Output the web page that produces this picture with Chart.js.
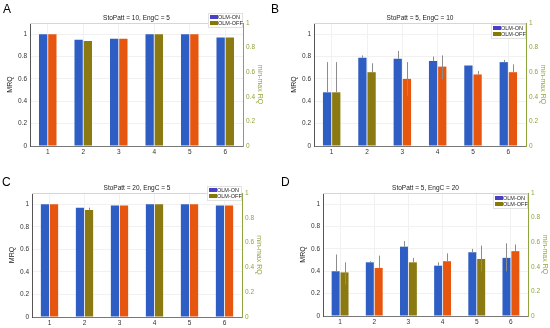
<!DOCTYPE html>
<html>
<head>
<meta charset="utf-8">
<script src="https://cdn.jsdelivr.net/npm/chart.js@4.4.1/dist/chart.umd.min.js"></script>
<style>
    html, body { margin: 0; padding: 0; background: #fff; }
    #wrap { position: relative; width: 550px; height: 328px; overflow: hidden; font-family: 'Liberation Sans', Arial, sans-serif; }
    canvas { position: absolute; }
    .letter { position: absolute; font-size: 12px; color: #000; line-height: 1; }
</style>
</head>
<body>
<div id="wrap">
    <canvas id="chartA" width="275" height="164" style="left:0;top:0;"></canvas>
    <canvas id="chartB" width="275" height="164" style="left:275px;top:0;"></canvas>
    <canvas id="chartC" width="275" height="164" style="left:0;top:164px;"></canvas>
    <canvas id="chartD" width="275" height="164" style="left:275px;top:164px;"></canvas>
    <div class="letter" style="left:3px;top:3px;">A</div>
    <div class="letter" style="left:271px;top:3px;">B</div>
    <div class="letter" style="left:2px;top:176px;">C</div>
    <div class="letter" style="left:281px;top:176px;">D</div>
</div>
<script>
// --- Dados ---
const categories = ['1', '2', '3', '4', '5', '6'];
const seriesNames = ['OLM-ON', 'OLM-OFF'];
const leftTicks = [0, 0.2, 0.4, 0.6, 0.8, 1];
const rightTicks = [0, 0.2, 0.4, 0.6, 0.8, 1];

// Painel A
const titleA = 'StoPatt = 10, EngC = 5';
const onA = [1.00, 0.95, 0.96, 1.00, 1.00, 0.97];
const offA = [1.00, 0.94, 0.96, 1.00, 1.00, 0.97];
const onHiA = [null, null, null, null, null, null];
const onLoA = [null, null, null, null, null, null];
const offHiA = [null, null, null, null, null, null];
const offLoA = [null, null, null, null, null, null];

// Painel B
const titleB = 'StoPatt = 5, EngC = 10';
const onB = [0.48, 0.79, 0.78, 0.76, 0.72, 0.75];
const offB = [0.48, 0.66, 0.60, 0.71, 0.64, 0.66];
const onHiB = [0.75, 0.81, 0.85, 0.80, null, 0.77];
const onLoB = [0.48, 0.79, 0.78, 0.76, null, 0.75];
const offHiB = [0.75, 0.74, 0.75, 0.81, 0.67, 0.73];
const offLoB = [0.48, 0.66, 0.45, 0.60, 0.64, 0.66];

// Painel C
const titleC = 'StoPatt = 20, EngC = 5';
const onC = [1.00, 0.97, 0.99, 1.00, 1.00, 0.99];
const offC = [1.00, 0.95, 0.99, 1.00, 1.00, 0.99];
const onHiC = [null, null, null, null, null, null];
const onLoC = [null, null, null, null, null, null];
const offHiC = [null, 0.97, null, null, null, null];
const offLoC = [null, 0.95, null, null, null, null];

// Painel D
const titleD = 'StoPatt = 5, EngC = 20';
const onD = [0.40, 0.48, 0.62, 0.45, 0.57, 0.52];
const offD = [0.39, 0.43, 0.48, 0.49, 0.51, 0.58];
const onHiD = [0.55, 0.49, 0.67, 0.48, 0.60, 0.65];
const onLoD = [0.40, 0.48, 0.62, 0.45, 0.57, 0.40];
const offHiD = [0.48, 0.54, 0.52, 0.56, 0.63, 0.64];
const offLoD = [0.28, 0.43, 0.48, 0.49, 0.40, 0.58];

// --- Estilos ---
const FONT = "'Liberation Sans', Arial, sans-serif";
const BLUE = '#2e5ec3';
const ORANGE = '#e6560f';
const OLIVE = '#8b7a12';
const GREEN_AXIS = '#8ea43c';
const LEG_ON = '#4a40c6';
const LEG_OFF = '#857a05';

// cores das barras OFF (variam de barra a barra na figura)
const offColorsA = [ORANGE, OLIVE, ORANGE, OLIVE, ORANGE, OLIVE];
const offColorsB = [OLIVE, OLIVE, ORANGE, ORANGE, ORANGE, ORANGE];
const offColorsC = [ORANGE, OLIVE, ORANGE, OLIVE, ORANGE, ORANGE];
const offColorsD = [OLIVE, ORANGE, OLIVE, ORANGE, OLIVE, ORANGE];

const fmt = v => String(+Number(v).toFixed(1));

// plugin: título, caixa, barras de erro e legenda
const panelPlugin = {
    id: 'panel',
    afterDatasetsDraw(chart, args, opts) {
        const ctx = chart.ctx;
        const area = chart.chartArea;
        const y = chart.scales.y;
        ctx.save();

        // barras de erro
        ctx.strokeStyle = '#8c8c8c';
        ctx.lineWidth = 1;
        chart.data.datasets.forEach((ds, di) => {
            const meta = chart.getDatasetMeta(di);
            meta.data.forEach((bar, i) => {
                const hi = ds.errHi[i];
                const lo = ds.errLo[i];
                if (hi == null) return;
                const x = Math.round(bar.x) + 0.5;
                ctx.beginPath();
                ctx.moveTo(x, y.getPixelForValue(lo));
                ctx.lineTo(x, y.getPixelForValue(hi));
                ctx.stroke();
            });
        });

        // linha superior da caixa
        ctx.strokeStyle = '#d6d6d6';
        ctx.beginPath();
        ctx.moveTo(area.left, Math.round(area.top) + 0.5);
        ctx.lineTo(area.right, Math.round(area.top) + 0.5);
        ctx.stroke();

        // título
        ctx.fillStyle = '#222';
        ctx.font = '6.5px ' + FONT;
        ctx.textAlign = 'center';
        ctx.textBaseline = 'middle';
        ctx.fillText(opts.title, (area.left + area.right) / 2, opts.titleY);

        // legenda
        const lx = opts.legendX, ly = opts.legendY;
        ctx.fillStyle = '#fff';
        ctx.fillRect(lx, ly, 34, 14);
        ctx.strokeStyle = '#e2e2e2';
        ctx.strokeRect(lx + 0.5, ly + 0.5, 34, 14);
        ctx.font = '5.5px ' + FONT;
        ctx.textAlign = 'left';
        [LEG_ON, LEG_OFF].forEach((c, k) => {
            ctx.fillStyle = c;
            ctx.fillRect(lx + 2, ly + 2 + k * 6, 8, 4);
            ctx.fillStyle = '#222';
            ctx.fillText(seriesNames[k], lx + 10, ly + 4.5 + k * 6);
        });
        ctx.restore();
    }
};

function makePanel(id, title, on, off, offColors, onHi, onLo, offHi, offLo, g) {
    const ctx = document.getElementById(id).getContext('2d');
    return new Chart(ctx, {
        type: 'bar',
        data: {
            labels: categories,
            datasets: [{
                label: seriesNames[0],
                data: on,
                backgroundColor: BLUE,
                errHi: onHi,
                errLo: onLo,
                yAxisID: 'y',
                categoryPercentage: 0.52,
                barPercentage: 0.9
            }, {
                label: seriesNames[1],
                data: off,
                backgroundColor: offColors,
                errHi: offHi,
                errLo: offLo,
                yAxisID: 'y',
                categoryPercentage: 0.52,
                barPercentage: 0.9
            }]
        },
        options: {
            responsive: false,
            animation: false,
            layout: { padding: { top: g.top, left: g.padL, right: g.padR, bottom: 0 } },
            plugins: {
                legend: { display: false },
                tooltip: { enabled: false },
                panel: { title: title, titleY: g.titleY, legendX: g.legendX, legendY: g.legendY }
            },
            scales: {
                x: {
                    grid: { color: '#f1f1f1', offset: false, drawTicks: false },
                    border: { color: '#777' },
                    ticks: { color: '#333', font: { size: 6.5, family: FONT }, padding: 2 },
                    afterFit: s => { s.height = g.xh; }
                },
                y: {
                    position: 'left',
                    min: 0,
                    max: 1.1,
                    afterBuildTicks: s => { s.ticks = leftTicks.map(v => ({ value: v })); },
                    grid: { color: '#f1f1f1', drawTicks: false },
                    border: { color: '#555' },
                    ticks: { color: '#333', font: { size: 6.5, family: FONT }, padding: 3, callback: fmt },
                    title: { display: true, text: 'MRQ', color: '#222', font: { size: 7, family: FONT }, padding: 0 },
                    afterFit: s => { s.width = 24; }
                },
                y2: {
                    position: 'right',
                    min: 0,
                    max: 1,
                    afterBuildTicks: s => { s.ticks = rightTicks.map(v => ({ value: v })); },
                    grid: { drawOnChartArea: false, drawTicks: false },
                    border: { color: GREEN_AXIS },
                    ticks: { color: GREEN_AXIS, font: { size: 6.5, family: FONT }, padding: 3, callback: fmt },
                    title: { display: true, text: 'min-max RQ', color: GREEN_AXIS, font: { size: 7, family: FONT }, padding: 0 },
                    afterFit: s => { s.width = 21; }
                }
            }
        },
        plugins: [panelPlugin]
    });
}

makePanel('chartA', titleA, onA, offA, offColorsA, onHiA, onLoA, offHiA, offLoA,
    { top: 23, padL: 6, padR: 11, xh: 18, titleY: 18, legendX: 208, legendY: 13 });
makePanel('chartB', titleB, onB, offB, offColorsB, onHiB, onLoB, offHiB, offLoB,
    { top: 23, padL: 15, padR: 3, xh: 18, titleY: 18, legendX: 216, legendY: 24 });
makePanel('chartC', titleC, onC, offC, offColorsC, onHiC, onLoC, offHiC, offLoC,
    { top: 29, padL: 8, padR: 12, xh: 11, titleY: 24, legendX: 207, legendY: 22 });
makePanel('chartD', titleD, onD, offD, offColorsD, onHiD, onLoD, offHiD, offLoD,
    { top: 29, padL: 24, padR: 1, xh: 12, titleY: 24, legendX: 218, legendY: 30 });
</script>
</body>
</html>
